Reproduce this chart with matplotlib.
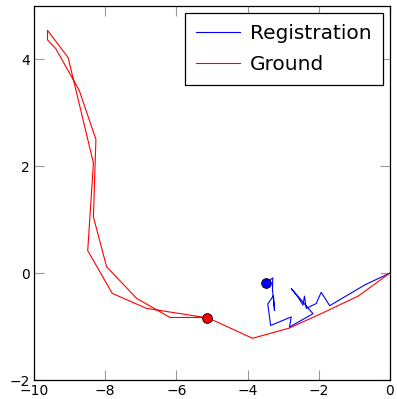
import numpy as np
import matplotlib
matplotlib.use("Agg")
import matplotlib.pyplot as plt

# ground truth path (x, y)
ground_x = [0.0, -0.89, -1.87, -2.83, -3.86, -4.87, -5.15, -6.84, -7.80, -8.49,
            -8.33, -9.04, -9.62, -9.62, -9.39, -8.73, -8.26, -8.33, -7.96, -7.12,
            -6.18, -5.34, -5.15]
ground_y = [0.0, -0.43, -0.74, -1.03, -1.22, -0.91, -0.835, -0.66, -0.38, 0.42,
            2.06, 4.03, 4.54, 4.36, 4.20, 3.42, 2.50, 1.05, 0.12, -0.47,
            -0.83, -0.83, -0.835]

# registration path (x, y)
reg_x = [0.0, -0.70, -1.69, -1.93, -2.07, -2.35, -2.40, -2.44, -2.58, -2.77,
         -2.16, -2.82, -2.77, -3.35, -3.43, -3.27, -3.24, -3.30, -3.29, -3.47]
reg_y = [0.0, -0.22, -0.61, -0.36, -0.57, -0.66, -0.43, -0.60, -0.45, -0.29,
         -0.76, -1.01, -0.82, -0.98, -0.58, -0.42, -0.70, -0.30, -0.09, -0.18]

xticks = [-10, -8, -6, -4, -2, 0]
yticks = [-2, 0, 2, 4]

fig = plt.figure(figsize=(3.97, 3.99), dpi=100)
ax = fig.add_axes([0.0856, 0.0476, 0.8964, 0.938])

ax.plot(reg_x, reg_y, color='blue', lw=0.8, label='Registration')
ax.plot(ground_x, ground_y, color='red', lw=0.8, label='Ground')

# end markers
ax.plot(reg_x[-1], reg_y[-1], 'o', color='blue', mec='black', mew=0.6, ms=7)
ax.plot(ground_x[-1], ground_y[-1], 'o', color='red', mec='black', mew=0.6, ms=7)

ax.set_xlim(-10, 0)
ax.set_ylim(-2, 5)
ax.set_xticks(xticks)
ax.set_yticks(yticks)
ax.set_xticklabels(['\u2212' + str(-t) if t < 0 else str(t) for t in xticks])
ax.set_yticklabels(['\u2212' + str(-t) if t < 0 else str(t) for t in yticks])
ax.tick_params(direction='in', length=7, width=0.8, color='#999999',
               top=True, right=True, labelsize=10)
ax.tick_params(axis='x', pad=3)
ax.tick_params(axis='y', pad=3)
for s in ax.spines.values():
    s.set_linewidth(0.9)

leg = ax.legend(loc='upper right', fontsize=14.5, handlelength=2.2,
                fancybox=False, edgecolor='black', framealpha=1,
                borderaxespad=0.35, labelspacing=0.6, handletextpad=0.5,
                borderpad=0.55)
leg.get_frame().set_linewidth(0.9)

fig.savefig('out.png', dpi=100)
